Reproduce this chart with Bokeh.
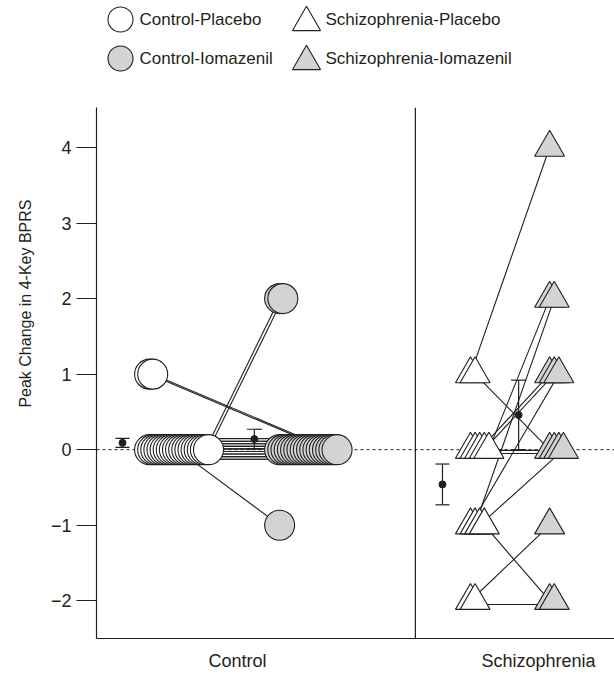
from bokeh.plotting import figure
from bokeh.models import Range1d, Span, FixedTicker, ColumnDataSource, Whisker, TeeHead, Title
from bokeh.layouts import column
from bokeh.embed import file_html
from bokeh.resources import INLINE
from bokeh.core.properties import value

# ---------------- data ----------------
groups = ["Control", "Schizophrenia"]
group_pos = [1, 2]

control_placebo = [0, 0, 0, 0, 0, 0, 0, 0, 0, 0, 0, 0, 0, 0, 0, 0, 1, 1, 0, 0, 0, 0]
control_iomazenil = [0, 0, 0, 0, 0, 0, 0, 0, 0, -1, 0, 0, 0, 0, 0, 0, 0, 0, 0, 0, 2, 2]

schizo_placebo = [1, 1, 0, 0, 0, 0, 0, -1, -1, -1, -1, -2, -2]
schizo_iomazenil = [4, 0, 0, 0, 1, 1, 2, 1, 2, 0, -2, -1, -2]

placebo_mean = [0.09, -0.46]
placebo_se = [0.06, 0.27]
iomazenil_mean = [0.14, 0.46]
iomazenil_se = [0.13, 0.46]

y_ticks = [-2, -1, 0, 1, 2, 3, 4]
y_title = "Peak Change in 4-Key BPRS"
legend_labels = ["Control-Placebo", "Control-Iomazenil",
                 "Schizophrenia-Placebo", "Schizophrenia-Iomazenil"]

# ---------------- styles ----------------
FONT = "Liberation Sans"
GRAY = "#d1d3d4"
INK = "#231f20"
W, H = 614, 675
LEFT = 96
LH = 85
PX_PER_UNIT = 301.0
X0 = 0.5316

def stack_x(values, base, step):
    seen = {}
    xs = []
    for v in values:
        k = seen.get(v, 0)
        seen[v] = k + 1
        xs.append(base + k * step)
    return xs

def flat_offsets(a, b, m, spacing, shift):
    offs = []
    j = 0
    for va, vb in zip(a, b):
        if va == vb:
            offs.append(((j % m) - (m - 1) / 2) * spacing + shift)
            j += 1
        else:
            offs.append(0.0)
    return offs

# ---------------- legend strip ----------------
leg = figure(width=W, height=LH, x_range=Range1d(LEFT, W), y_range=Range1d(LH, 0),
             toolbar_location=None, output_backend="svg",
             min_border_left=LEFT, min_border_right=0, min_border_top=0, min_border_bottom=0,
             x_axis_location=None, y_axis_location=None, outline_line_color=None)
leg.grid.visible = False
leg_col_x = [120, 306]
leg_row_y = [19, 58]
leg_markers = ["circle", "circle", "triangle", "triangle"]
leg_fills = ["white", GRAY, "white", GRAY]
lx = [leg_col_x[i // 2] for i in range(4)]
ly = [leg_row_y[i % 2] for i in range(4)]
ly_m = [y + (3 if m == "triangle" else 0) for y, m in zip(ly, leg_markers)]
leg.scatter(x=lx, y=ly_m, marker=leg_markers, size=[25, 25, 28, 28],
            fill_color=leg_fills, line_color=INK, line_width=1.1)
leg.text(x=[x + 19 for x in lx], y=ly, text=legend_labels,
         text_font=value(FONT), text_font_size="17px", text_color=INK,
         text_baseline="middle", text_align="left")

# ---------------- main plot ----------------
frame_w = W - LEFT
p = figure(width=W, height=H - LH,
           x_range=Range1d(X0, X0 + frame_w / PX_PER_UNIT), y_range=Range1d(-2.5, 4.53),
           toolbar_location=None, output_backend="svg",
           min_border_left=LEFT, min_border_right=0, min_border_top=107 - LH, min_border_bottom=37,
           outline_line_color=None)
p.grid.visible = False

zero = Span(location=0, dimension="width", line_color=INK, line_dash="3 3",
            line_width=1, level="underlay")
divider = Span(location=1.591, dimension="height", line_color=INK, line_width=1.2)
p.add_layout(zero)
p.add_layout(divider)

# Control
cx_p = stack_x(control_placebo, group_pos[0] - 0.292, 0.0103)
cx_i = stack_x(control_iomazenil, group_pos[0] + 0.140, 0.0106)
c_off = flat_offsets(control_placebo, control_iomazenil, 9, 0.034, 0.01)
p.segment(x0=cx_p, y0=[v + o for v, o in zip(control_placebo, c_off)],
          x1=cx_i, y1=[v + o for v, o in zip(control_iomazenil, c_off)],
          line_color=INK, line_width=1.1)

# Schizophrenia
sx_p = stack_x(schizo_placebo, group_pos[1] - 0.226, 0.0153)
sx_i = stack_x(schizo_iomazenil, group_pos[1] + 0.037, 0.0153)
s_off = flat_offsets(schizo_placebo, schizo_iomazenil, 2, 0.04, -0.03)
p.segment(x0=sx_p, y0=[v + o for v, o in zip(schizo_placebo, s_off)],
          x1=sx_i, y1=[v + o for v, o in zip(schizo_iomazenil, s_off)],
          line_color=INK, line_width=1.1)

# markers (drawn after lines, left to right so the right ones sit on top)
def ordered(xs, ys):
    pairs = sorted(zip(xs, ys), key=lambda t: t[0])
    return [t[0] for t in pairs], [t[1] for t in pairs]

ox, oy = ordered(cx_p, control_placebo)
p.scatter(ox, oy, marker="circle", size=30, fill_color="white", line_color=INK, line_width=1.1)
ox, oy = ordered(cx_i, control_iomazenil)
p.scatter(ox, oy, marker="circle", size=30, fill_color=GRAY, line_color=INK, line_width=1.1)
ox, oy = ordered(sx_p, schizo_placebo)
p.scatter(ox, oy, marker="triangle", size=30, fill_color="white", line_color=INK, line_width=1.1)
ox, oy = ordered(sx_i, schizo_iomazenil)
p.scatter(ox, oy, marker="triangle", size=30, fill_color=GRAY, line_color=INK, line_width=1.1)

# means +/- SE
mean_x_p = [group_pos[0] - 0.382, group_pos[1] - 0.319]
mean_x_i = [group_pos[0] + 0.056, group_pos[1] - 0.066]
for mx, mm, se, cap in [(mean_x_p, placebo_mean, placebo_se, 14),
                        (mean_x_i, iomazenil_mean, iomazenil_se, 15)]:
    src = ColumnDataSource(dict(x=mx, m=mm,
                                lo=[a - b for a, b in zip(mm, se)],
                                hi=[a + b for a, b in zip(mm, se)]))
    wk = Whisker(source=src, base="x", lower="lo", upper="hi", dimension="height",
                 line_color=INK, line_width=1.2,
                 upper_head=TeeHead(size=cap, line_color=INK, line_width=1.2),
                 lower_head=TeeHead(size=cap, line_color=INK, line_width=1.2))
    p.add_layout(wk)
    p.scatter("x", "m", source=src, size=7, fill_color=INK, line_color=INK)

# axes
p.yaxis.ticker = FixedTicker(ticks=y_ticks)
p.yaxis.major_label_overrides = {t: (str(t) if t >= 0 else "\u2212" + str(-t)) for t in y_ticks}
p.yaxis.major_tick_out = 20
p.yaxis.major_tick_in = 0
p.yaxis.minor_tick_line_color = None
p.yaxis.major_label_standoff = 5

p.xaxis.ticker = FixedTicker(ticks=group_pos)
p.xaxis.major_label_overrides = {g: n for g, n in zip(group_pos, groups)}
p.xaxis.major_tick_out = 0
p.xaxis.major_tick_in = 0
p.xaxis.minor_tick_line_color = None
p.xaxis.major_label_standoff = 12

for ax in (p.xaxis, p.yaxis):
    ax.axis_line_color = INK
    ax.axis_line_width = 1.2
    ax.major_tick_line_color = INK
    ax.major_tick_line_width = 1.2
    ax.major_label_text_font = FONT
    ax.major_label_text_font_size = "18px"
    ax.major_label_text_color = INK

# y title: sits toward the upper part of the axis, as in the original
ytitle = Title(text=y_title, align="right", offset=92, standoff=28,
               text_font=FONT, text_font_size="16px", text_font_style="normal",
               text_color=INK)
p.add_layout(ytitle, "left")

layout = column(leg, p, spacing=0)
open("out.html", "w").write(file_html(layout, INLINE))
